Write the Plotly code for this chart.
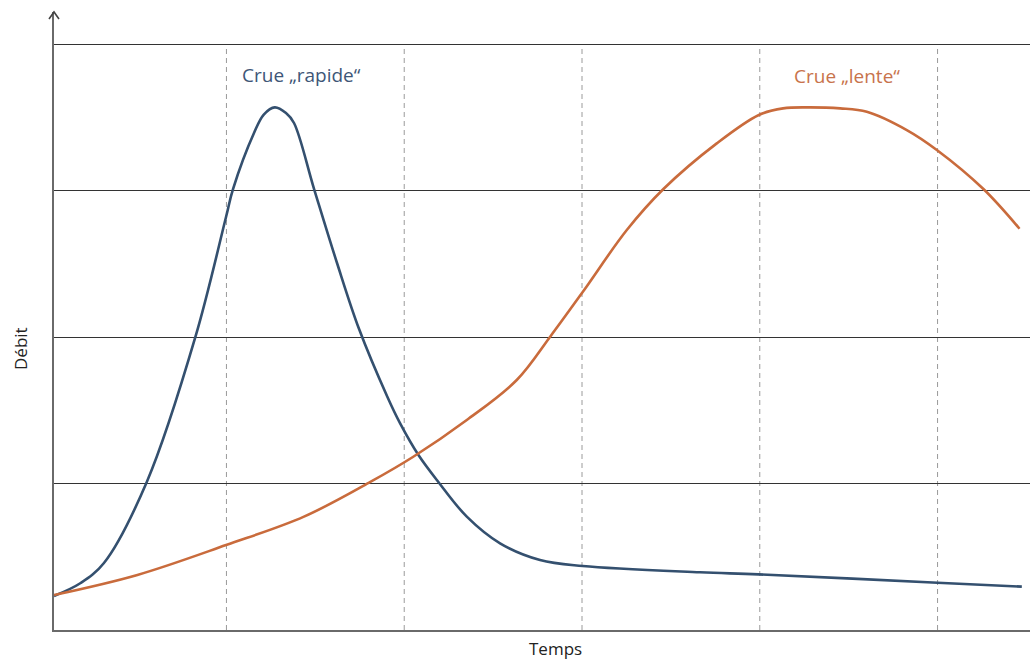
import plotly.graph_objects as go

# Blue: "Crue rapide" (fast flood)
rapide_x = [0.03, 0.18, 0.311, 0.552, 0.827, 0.998, 1.037, 1.155, 1.21, 1.272, 1.335, 1.380,
            1.493, 1.622, 1.746, 1.905, 1.977, 2.080, 2.192, 2.352, 2.539, 2.764, 3.004,
            3.664, 3.992, 5.0, 5.474]
rapide_y = [0.232, 0.321, 0.4575, 1.011, 2.008, 2.822, 3.011, 3.394, 3.52, 3.569, 3.53, 3.462,
            3.011, 2.506, 2.055, 1.593, 1.411, 1.195, 1.011, 0.774, 0.592, 0.478, 0.437,
            0.394, 0.380, 0.323, 0.296]

# Orange: "Crue lente" (slow flood)
lente_x = [0.03, 0.499, 0.998, 1.436, 1.812, 2.051, 2.352, 2.633, 2.824, 3.004, 3.252,
           3.458, 3.758, 3.995, 4.131, 4.265, 4.452, 4.602, 4.827, 4.996, 5.258, 5.461]
lente_y = [0.239, 0.376, 0.580, 0.774, 1.013, 1.183, 1.434, 1.707, 2.008, 2.308, 2.731,
           3.011, 3.323, 3.517, 3.562, 3.569, 3.562, 3.539, 3.414, 3.278, 3.011, 2.740]

dashed_x = [1, 2, 3, 4, 5]
grid_y = [1, 2, 3, 4]

BLUE = "#34506f"
ORANGE = "#c96b3c"

fig = go.Figure()
fig.add_trace(go.Scatter(x=rapide_x, y=rapide_y, mode="lines",
                         line=dict(color=BLUE, width=2.6, shape="spline", smoothing=1.0),
                         showlegend=False, hoverinfo="skip"))
fig.add_trace(go.Scatter(x=lente_x, y=lente_y, mode="lines",
                         line=dict(color=ORANGE, width=2.6, shape="spline", smoothing=1.0),
                         showlegend=False, hoverinfo="skip"))

for xv in dashed_x:
    fig.add_shape(type="line", x0=xv, x1=xv, y0=0, y1=4, xref="x", yref="y",
                  line=dict(color="#9a9a9a", width=1, dash="5px,4px"), layer="below")

# arrow head on y axis
fig.add_shape(type="path", xref="paper", yref="paper",
              xsizemode="pixel", ysizemode="pixel", xanchor=0, yanchor=1,
              path="M -5,-7 L 0,0 L 5,-7",
              line=dict(color="#444444", width=1.6))

fig.add_annotation(x=1.42, y=3.79, xref="x", yref="y", text="Crue „rapide“",
                   showarrow=False, font=dict(family="Open Sans", size=19, color="#3e5677"))
fig.add_annotation(x=4.491, y=3.783, xref="x", yref="y", text="Crue „lente“",
                   showarrow=False, font=dict(family="Open Sans", size=19, color="#c8734b"))

fig.add_annotation(x=(555 - 54) / 976, y=(630 - 648) / 618, xref="paper", yref="paper",
                   text="Temps", showarrow=False, yanchor="middle", xanchor="center",
                   font=dict(family="Open Sans", size=17, color="#222222"))
fig.add_annotation(x=(20 - 54) / 976, y=(630 - 349) / 618, xref="paper", yref="paper",
                   text="Débit", showarrow=False, textangle=-90, xanchor="center",
                   yanchor="middle",
                   font=dict(family="Open Sans", size=17, color="#222222"))

fig.update_layout(
    width=1030, height=661,
    margin=dict(l=54, r=0, t=12, b=31),
    paper_bgcolor="white", plot_bgcolor="white",
    xaxis=dict(range=[0.03, 5.52], showgrid=False, zeroline=False, showticklabels=False,
               ticks="", showline=True, linecolor="#6a6a6a", linewidth=2, fixedrange=True),
    yaxis=dict(range=[0, 4.22], tickvals=grid_y, showgrid=True, gridcolor="#333333",
               gridwidth=1, zeroline=False, showticklabels=False, ticks="",
               showline=True, linecolor="#6a6a6a", linewidth=2, fixedrange=True),
)

fig.write_html("out.html", config={"displayModeBar": False},
               post_script="document.body.style.margin='0';document.body.style.overflow='hidden';")
